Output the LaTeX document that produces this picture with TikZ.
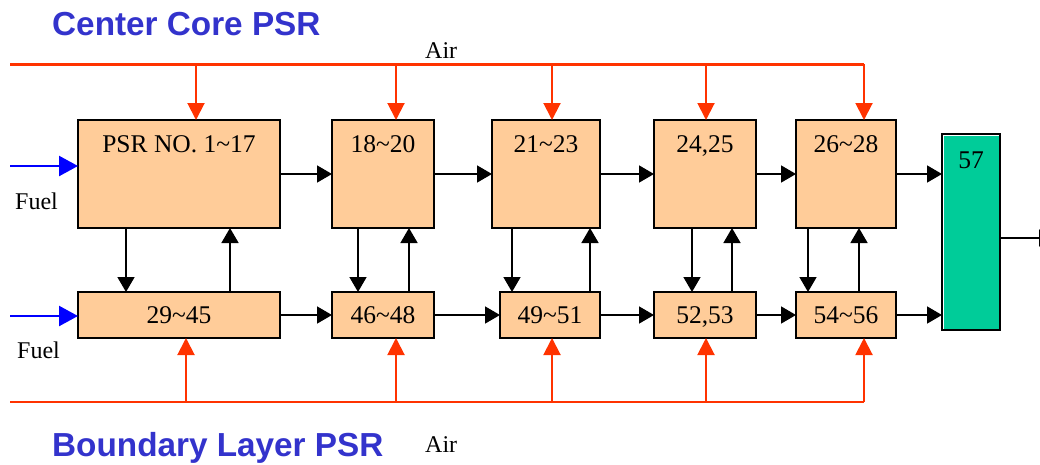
\documentclass[tikz,border=0pt]{standalone}
\usepackage{fontspec}
\setmainfont{Liberation Serif}
\newfontfamily\headfont{Liberation Sans}
\usepackage{tikz}
\usetikzlibrary{arrows.meta,positioning}
\definecolor{Peach}{RGB}{255,204,153}
\definecolor{AirRed}{RGB}{255,51,0}
\definecolor{FuelBlue}{RGB}{0,0,255}
\definecolor{MixGreen}{RGB}{0,204,153}
\definecolor{TitleBlue}{RGB}{51,51,204}

\begin{document}
\begin{tikzpicture}[
    x=1pt, y=-1pt,
    psr/.style={rectangle, draw=black, fill=Peach, line width=1.6pt, outer sep=0pt,
                minimum height=#1, inner sep=0pt, text depth=0pt,
                font=\fontsize{25.5}{29}\selectfont},
    psr/.default=108pt,
    tag/.style={anchor=north, yshift=-15pt, inner sep=0pt, font=\fontsize{25.5}{29}\selectfont},
    arr/.style={-{Triangle[length=15pt,width=17pt]}, line width=1.6pt, color=#1},
    arr/.default=black,
    fuelarr/.style={-{Triangle[length=19pt,width=20pt]}, line width=2.4pt, color=FuelBlue},
    air/.style={color=AirRed, line width=#1},
    air/.default=2pt,
    airarr/.style={-{Triangle[length=17pt,width=17pt]}, line width=2pt, color=AirRed},
    txt/.style={anchor=base west, inner sep=0pt, font=\fontsize{24}{28}\selectfont},
    head/.style={anchor=base west, inner sep=0pt, text=TitleBlue,
                 font=\headfont\bfseries\fontsize{33.3}{38}\selectfont},
]
\useasboundingbox (0,0) rectangle (1040,464);

% ── Center core row ──
\node[psr, minimum width=202pt, label={[tag]north:PSR NO. 1\textasciitilde17}] (b1) at (179,174) {};
\node[psr, minimum width=102pt, right=52pt of b1, label={[tag]north:18\textasciitilde20}] (b2) {};
\node[psr, minimum width=108pt, right=58pt of b2, label={[tag]north:21\textasciitilde23}] (b3) {};
\node[psr, minimum width=102pt, right=54pt of b3, label={[tag]north:24,25}] (b4) {};
\node[psr, minimum width=100pt, right=40pt of b4, label={[tag]north:26\textasciitilde28}] (b5) {};

% ── Boundary layer row ──
\node[psr=46pt, minimum width=202pt] (c1) at (179,315) {29\textasciitilde45};
\node[psr=46pt, minimum width=102pt, right=52pt of c1] (c2) {46\textasciitilde48};
\node[psr=46pt, minimum width=100pt, right=66pt of c2] (c3) {49\textasciitilde51};
\node[psr=46pt, minimum width=102pt, right=54pt of c3] (c4) {52,53};
\node[psr=46pt, minimum width=100pt, right=40pt of c4] (c5) {54\textasciitilde56};

% ── Mixing reactor ──
\node[rectangle, draw=black, fill=MixGreen, line width=1.6pt, outer sep=0pt,
      minimum width=58pt, minimum height=196pt,
      label={[tag, yshift=-3pt]north:57}] (g) at (971,232) {};
\draw[white, line width=1.6pt]
    ([xshift=1.6pt, yshift=1pt]g.south west) -- ([xshift=1.6pt, yshift=-1.6pt]g.north west)
    -- ([xshift=-1pt, yshift=-1.6pt]g.north east);

% ── Arrows: flow along the rows ──
\draw[arr] (b1) -- (b2);
\draw[arr] (b2) -- (b3);
\draw[arr] (b3) -- (b4);
\draw[arr] (b4) -- (b5);
\draw[arr] (b5.east) -- (b5.east -| g.west);
\draw[arr] (c1) -- (c2);
\draw[arr] (c2) -- (c3);
\draw[arr] (c3) -- (c4);
\draw[arr] (c4) -- (c5);
\draw[arr] (c5.east) -- (c5.east -| g.west);

% ── Exit ──
\coordinate (exit) at (1054,238);
\draw[arr] (exit -| g.east) -- (exit);

% ── Arrows: exchange between rows ──
\draw[arr] ([xshift=-53pt]b1.south) -- ([xshift=-53pt]b1.south |- c1.north);
\draw[arr] ([xshift=51pt]c1.north) -- ([xshift=51pt]c1.north |- b1.south);
\draw[arr] ([xshift=-25pt]b2.south) -- ([xshift=-25pt]b2.south |- c2.north);
\draw[arr] ([xshift=26pt]c2.north) -- ([xshift=26pt]c2.north |- b2.south);
\draw[arr] ([xshift=-34pt]b3.south) -- ([xshift=-34pt]b3.south |- c3.north);
\draw[arr] ([xshift=40pt]c3.north) -- ([xshift=40pt]c3.north |- b3.south);
\draw[arr] ([xshift=-13pt]b4.south) -- ([xshift=-13pt]b4.south |- c4.north);
\draw[arr] ([xshift=27pt]c4.north) -- ([xshift=27pt]c4.north |- b4.south);
\draw[arr] ([xshift=-38pt]b5.south) -- ([xshift=-38pt]b5.south |- c5.north);
\draw[arr] ([xshift=13pt]c5.north) -- ([xshift=13pt]c5.north |- b5.south);

% ── Fuel inlets ──
\coordinate (fuelA) at (10,166);
\coordinate (fuelB) at (10,316);
\draw[fuelarr] (fuelA) -- (fuelA -| b1.west);
\draw[fuelarr] (fuelB) -- (fuelB -| c1.west);

% ── Air supply: top manifold ──
\coordinate (airA) at (10,64);
\draw[air=3pt] (airA) -- ([xshift=18pt]b5.north |- airA);
\draw[airarr] ([xshift=17pt]b1.north |- airA) -- ([xshift=17pt]b1.north);
\draw[airarr] ([xshift=13pt]b2.north |- airA) -- ([xshift=13pt]b2.north);
\draw[airarr] ([xshift=6pt]b3.north |- airA) -- ([xshift=6pt]b3.north);
\draw[airarr] ([xshift=1pt]b4.north |- airA) -- ([xshift=1pt]b4.north);
\draw[airarr] ([xshift=18pt]b5.north |- airA) -- ([xshift=18pt]b5.north);

% ── Air supply: bottom manifold ──
\coordinate (airB) at (10,402);
\draw[air] (airB) -- ([xshift=18pt]c5.south |- airB);
\draw[airarr] ([xshift=7pt]c1.south |- airB) -- ([xshift=7pt]c1.south);
\draw[airarr] ([xshift=13pt]c2.south |- airB) -- ([xshift=13pt]c2.south);
\draw[airarr] ([xshift=2pt]c3.south |- airB) -- ([xshift=2pt]c3.south);
\draw[airarr] ([xshift=1pt]c4.south |- airB) -- ([xshift=1pt]c4.south);
\draw[airarr] ([xshift=18pt]c5.south |- airB) -- ([xshift=18pt]c5.south);

% ── Labels ──
\node[head] (titleTop) at (52,35) {Center Core PSR};
\node[head] (titleBot) at (52,456) {Boundary Layer PSR};
\node[txt] (airTop) at (425,58) {Air};
\node[txt] (airBot) at (425,452) {Air};
\node[txt] (fuelTop) at (15,209) {Fuel};
\node[txt] (fuelBot) at (17,358) {Fuel};

\end{tikzpicture}
\end{document}
